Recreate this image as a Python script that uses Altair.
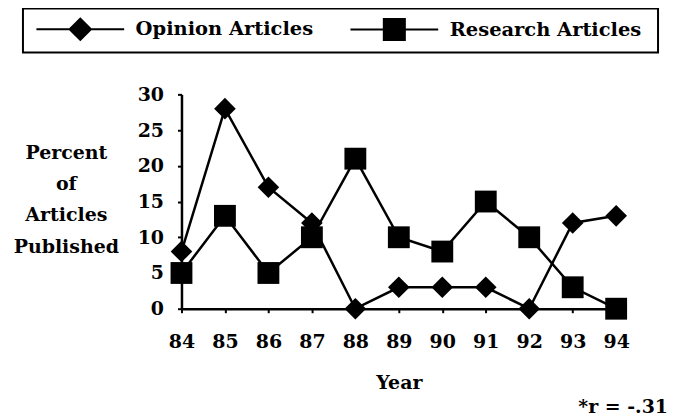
import altair as alt
import pandas as pd

years = [84, 85, 86, 87, 88, 89, 90, 91, 92, 93, 94]
opinion = [8, 28, 17, 12, 0, 3, 3, 3, 0, 12, 13]
research = [5, 13, 5, 10, 21, 10, 8, 15, 10, 3, 0]
series_names = ["Opinion Articles", "Research Articles"]
y_ticks = [0, 5, 10, 15, 20, 25, 30]

rows = []
for name, vals in zip(series_names, [opinion, research]):
    for yr, v in zip(years, vals):
        rows.append({"Year": yr, "Percent": v, "series": name})
df = pd.DataFrame(rows)

FONT = "DejaVu Serif"

x_enc = alt.X(
    "Year:Q",
    scale=alt.Scale(domain=[84, 94], nice=False, zero=False),
    axis=alt.Axis(
        values=years, format="d", title="Year", labelPadding=20, titlePadding=22,
        tickSize=4, tickWidth=2, domainWidth=2.5, labelFlush=False,
    ),
)
y_enc = alt.Y(
    "Percent:Q",
    scale=alt.Scale(domain=[0, 30], nice=False),
    axis=alt.Axis(
        values=y_ticks, title=["Percent", "of", "Articles", "Published"],
        titleAngle=0, titleAlign="center", titleBaseline="top",
        titleX=-116, titleY=49, titleLineHeight=31.5,
        labelPadding=14, tickSize=4, tickWidth=2, domainWidth=2.5,
    ),
)

base = alt.Chart(df)

lines = base.mark_line(color="black", strokeWidth=2.5).encode(
    x=x_enc, y=y_enc, detail="series:N"
)

pts_op = base.transform_filter(alt.datum.series == series_names[0]).mark_point(
    filled=True, color="black", size=470, opacity=1, shape="diamond"
).encode(x=x_enc, y=y_enc)
pts_re = base.transform_filter(alt.datum.series == series_names[1]).mark_point(
    filled=True, color="black", size=480, opacity=1, shape="square"
).encode(x=x_enc, y=y_enc)

# legend glyphs: a short line with the marker in the middle
diamond_path = "M-4,-0.1H4V0.1H-4ZM0,-1.1L1.1,0L0,1.1L-1.1,0Z"
square_path = "M-4,-0.1H4V0.1H-4ZM-1.05,-1.05H1.05V1.05H-1.05ZM23,0"

legend_layer = base.mark_point(
    filled=True, fill="black", stroke="black", strokeWidth=1, opacity=0
).encode(
    x=x_enc,
    y=y_enc,
    shape=alt.Shape(
        "series:N",
        scale=alt.Scale(domain=series_names, range=[diamond_path, square_path]),
        legend=alt.Legend(
            title=None, orient="none", legendX=-159, legendY=-86,
            direction="horizontal", columns=2, columnPadding=32,
            padding=9, strokeColor="black",
            symbolSize=484, symbolOffset=37, labelOffset=44,
            symbolFillColor="black", symbolStrokeColor="black", symbolStrokeWidth=1,
            symbolOpacity=1,
            labelFont=FONT, labelFontSize=19.5, labelFontWeight="bold", labelColor="black",
            labelLimit=400,
        ),
    ),
)

chart = alt.layer(lines, pts_op, pts_re, legend_layer).properties(
    width=436,
    height=215,
    background="white",
    title=alt.TitleParams(
        "*r = -.31", orient="bottom", anchor="end", frame="group",
        font=FONT, fontSize=19, fontWeight="bold", color="black", dx=52, offset=6,
    ),
    autosize=alt.AutoSizeParams(type="none"),
    padding={"left": 174, "top": 86, "right": 54, "bottom": 108},
).configure_view(stroke=None).configure_axis(
    grid=False, domainColor="black", tickColor="black",
    labelFont=FONT, labelFontSize=19, labelFontWeight="bold", labelColor="black",
    titleFont=FONT, titleFontSize=19, titleFontWeight="bold", titleColor="black",
).configure_legend(strokeWidth=2)

chart.save("out.html", embed_options={"renderer": "svg", "actions": False})
